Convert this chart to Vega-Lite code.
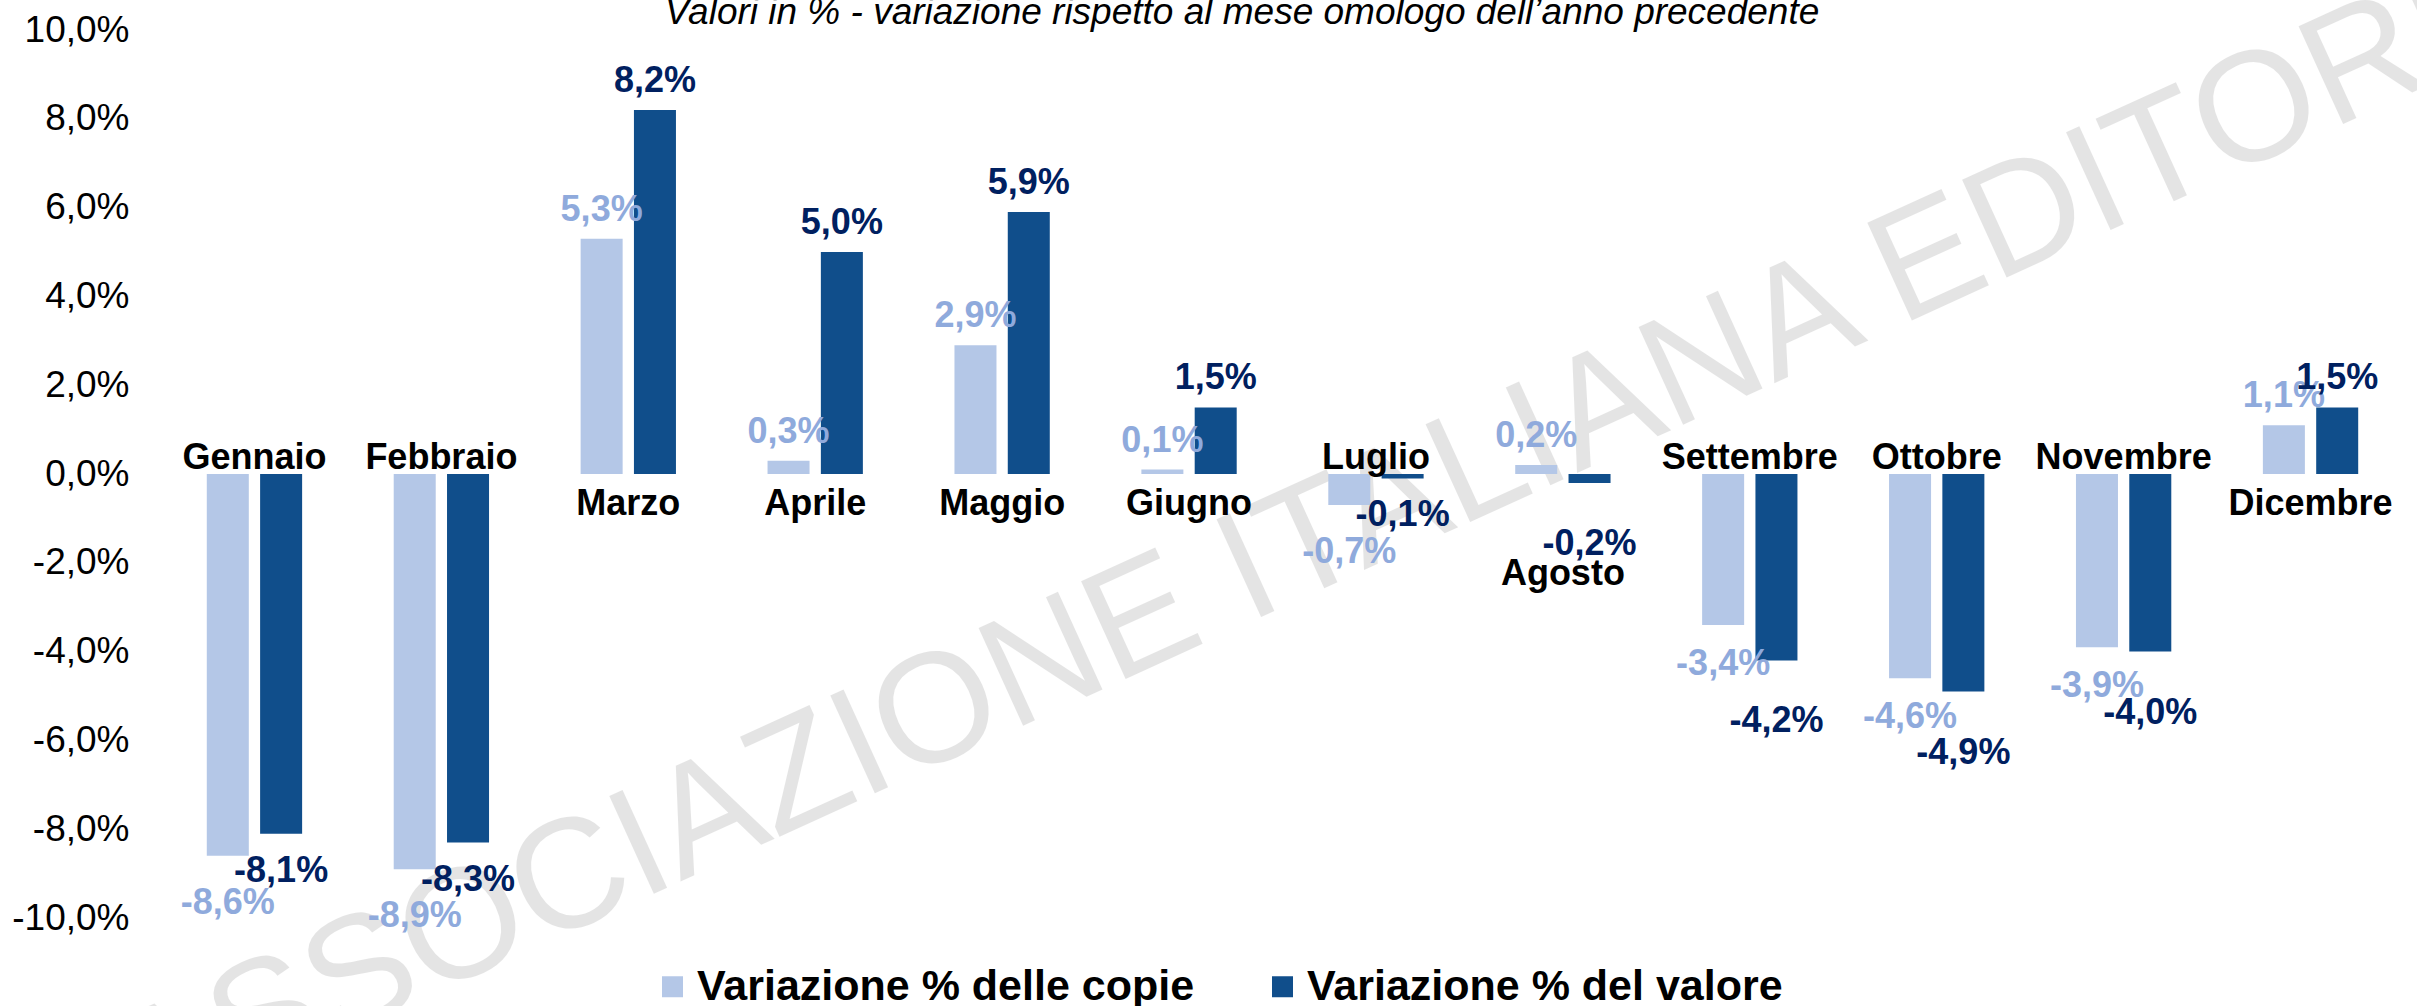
{
  "$schema": "https://vega.github.io/schema/vega-lite/v6.json",
  "width": 2243,
  "height": 888,
  "autosize": {"type": "none"},
  "padding": {"left": 161, "top": 30, "right": 13, "bottom": 88},
  "background": "white",
  "config": {
    "locale": {"number": {"decimal": ",", "thousands": ".", "grouping": [3], "currency": ["€", ""], "minus": "-"}},
    "view": {"stroke": null},
    "font": "Liberation Sans"
  },
  "data": {
    "values": [
      {"mese": "Gennaio", "copie": -0.086, "valore": -0.081},
      {"mese": "Febbraio", "copie": -0.089, "valore": -0.083},
      {"mese": "Marzo", "copie": 0.053, "valore": 0.082},
      {"mese": "Aprile", "copie": 0.003, "valore": 0.050},
      {"mese": "Maggio", "copie": 0.029, "valore": 0.059},
      {"mese": "Giugno", "copie": 0.001, "valore": 0.015},
      {"mese": "Luglio", "copie": -0.007, "valore": -0.001},
      {"mese": "Agosto", "copie": 0.002, "valore": -0.002},
      {"mese": "Settembre", "copie": -0.034, "valore": -0.042},
      {"mese": "Ottobre", "copie": -0.046, "valore": -0.049},
      {"mese": "Novembre", "copie": -0.039, "valore": -0.040},
      {"mese": "Dicembre", "copie": 0.011, "valore": 0.015}
    ]
  },
  "encoding": {
    "x": {
      "field": "mese",
      "type": "nominal",
      "scale": {
        "domain": ["Gennaio", "Febbraio", "Marzo", "Aprile", "Maggio", "Giugno", "Luglio", "Agosto", "Settembre", "Ottobre", "Novembre", "Dicembre"],
        "paddingInner": 0.49,
        "paddingOuter": 0.245
      },
      "axis": null
    }
  },
  "layer": [
    {
      "data": {"values": [{"testo": "ASSOCIAZIONE ITALIANA EDITORI"}]},
      "mark": {"type": "text", "font": "Liberation Sans", "fontSize": 156, "angle": -24.5, "align": "center", "baseline": "middle", "dx": 110, "color": "#000000", "opacity": 0.1},
      "encoding": {
        "x": {"datum": "Giugno"},
        "y": {"datum": -0.028},
        "text": {"field": "testo", "type": "nominal"}
      }
    },
    {
      "data": {"values": [{"testo": "Valori in % - variazione rispetto al mese omologo dell’anno precedente"}]},
      "mark": {"type": "text", "font": "Liberation Sans", "fontSize": 37, "fontStyle": "italic", "align": "center", "baseline": "alphabetic", "dx": 53, "dy": -6, "color": "#000000"},
      "encoding": {
        "x": {"datum": "Giugno"},
        "y": {"datum": 0.1},
        "text": {"field": "testo", "type": "nominal"}
      }
    },
    {
      "transform": [{"fold": ["copie", "valore"], "as": ["serie", "v"]}],
      "mark": {"type": "bar"},
      "encoding": {
        "xOffset": {"field": "serie", "type": "nominal", "scale": {"domain": ["copie", "valore"], "paddingInner": 0.212, "paddingOuter": 0}},
        "y": {
          "field": "v",
          "type": "quantitative",
          "scale": {"domain": [-0.1, 0.1], "nice": false, "zero": true},
          "axis": {
            "values": [-0.1, -0.08, -0.06, -0.04, -0.02, 0, 0.02, 0.04, 0.06, 0.08, 0.1],
            "format": ".1%",
            "title": null,
            "domain": false,
            "ticks": false,
            "tickSize": 0,
            "grid": false,
            "labelFont": "Liberation Sans",
            "labelFontSize": 37,
            "labelColor": "#000000",
            "labelPadding": 32
          }
        },
        "color": {
          "field": "serie",
          "type": "nominal",
          "scale": {"domain": ["copie", "valore"], "range": ["#B4C7E7", "#104E8B"]},
          "legend": {
            "orient": "none",
            "legendX": 490,
            "legendY": 935,
            "direction": "horizontal",
            "title": null,
            "padding": 0,
            "symbolType": "square",
            "symbolSize": 441,
            "symbolStrokeWidth": 0,
            "symbolOpacity": 1,
            "labelFont": "Liberation Sans",
            "labelFontSize": 43,
            "labelFontWeight": "bold",
            "labelColor": "#000000",
            "labelOffset": 3,
            "labelLimit": 2000,
            "columnPadding": 66,
            "labelExpr": "datum.label == 'copie' ? 'Variazione % delle copie' : 'Variazione % del valore'"
          }
        }
      }
    },
    {
      "mark": {"type": "rule", "color": "#8C8C8C", "strokeWidth": 1.5},
      "encoding": {"y": {"datum": 0}}
    },
    {
      "transform": [{"fold": ["copie", "valore"], "as": ["serie", "v"]}, {"filter": "datum.v >= 0"}],
      "mark": {"type": "text", "font": "Liberation Sans", "fontSize": 36, "fontWeight": "bold", "baseline": "alphabetic", "align": "center", "dy": -18},
      "encoding": {
        "xOffset": {"field": "serie", "type": "nominal"},
        "y": {"field": "v", "type": "quantitative"},
        "text": {"field": "v", "type": "quantitative", "format": ".1%"},
        "color": {"condition": {"test": "datum.serie == 'copie'", "value": "#8FAADC"}, "value": "#002060"}
      }
    },
    {
      "transform": [{"fold": ["copie", "valore"], "as": ["serie", "v"]}, {"filter": "datum.serie == 'copie' && datum.v < 0 && datum.copie < datum.valore"}],
      "mark": {"type": "text", "font": "Liberation Sans", "fontSize": 36, "fontWeight": "bold", "baseline": "alphabetic", "align": "center", "dy": 58, "color": "#8FAADC"},
      "encoding": {
        "xOffset": {"field": "serie", "type": "nominal"},
        "y": {"field": "v", "type": "quantitative"},
        "text": {"field": "v", "type": "quantitative", "format": ".1%"}
      }
    },
    {
      "transform": [{"fold": ["copie", "valore"], "as": ["serie", "v"]}, {"filter": "datum.serie == 'copie' && datum.v < 0 && datum.copie >= datum.valore"}],
      "mark": {"type": "text", "font": "Liberation Sans", "fontSize": 36, "fontWeight": "bold", "baseline": "alphabetic", "align": "center", "dy": 50, "color": "#8FAADC"},
      "encoding": {
        "xOffset": {"field": "serie", "type": "nominal"},
        "y": {"field": "v", "type": "quantitative"},
        "text": {"field": "v", "type": "quantitative", "format": ".1%"}
      }
    },
    {
      "transform": [{"fold": ["copie", "valore"], "as": ["serie", "v"]}, {"filter": "datum.serie == 'valore' && datum.v < 0 && datum.valore >= datum.copie"}],
      "mark": {"type": "text", "font": "Liberation Sans", "fontSize": 36, "fontWeight": "bold", "baseline": "alphabetic", "align": "center", "dy": 48, "color": "#002060"},
      "encoding": {
        "xOffset": {"field": "serie", "type": "nominal"},
        "y": {"field": "v", "type": "quantitative"},
        "text": {"field": "v", "type": "quantitative", "format": ".1%"}
      }
    },
    {
      "transform": [{"fold": ["copie", "valore"], "as": ["serie", "v"]}, {"filter": "datum.serie == 'valore' && datum.v < 0 && datum.valore < datum.copie"}],
      "mark": {"type": "text", "font": "Liberation Sans", "fontSize": 36, "fontWeight": "bold", "baseline": "alphabetic", "align": "center", "dy": 72, "color": "#002060"},
      "encoding": {
        "xOffset": {"field": "serie", "type": "nominal"},
        "y": {"field": "v", "type": "quantitative"},
        "text": {"field": "v", "type": "quantitative", "format": ".1%"}
      }
    },
    {
      "transform": [{"filter": "datum.copie < 0"}],
      "mark": {"type": "text", "font": "Liberation Sans", "fontSize": 36, "fontWeight": "bold", "baseline": "alphabetic", "align": "center", "dy": -5, "color": "#000000"},
      "encoding": {
        "y": {"datum": 0},
        "text": {"field": "mese", "type": "nominal"}
      }
    },
    {
      "transform": [{"filter": "datum.copie >= 0 && datum.valore >= 0"}],
      "mark": {"type": "text", "font": "Liberation Sans", "fontSize": 36, "fontWeight": "bold", "baseline": "alphabetic", "align": "center", "dy": 41, "color": "#000000"},
      "encoding": {
        "y": {"datum": 0},
        "text": {"field": "mese", "type": "nominal"}
      }
    },
    {
      "transform": [{"filter": "datum.copie >= 0 && datum.valore < 0"}],
      "mark": {"type": "text", "font": "Liberation Sans", "fontSize": 36, "fontWeight": "bold", "baseline": "alphabetic", "align": "center", "dy": 102, "color": "#000000"},
      "encoding": {
        "y": {"field": "valore", "type": "quantitative"},
        "text": {"field": "mese", "type": "nominal"}
      }
    }
  ]
}
